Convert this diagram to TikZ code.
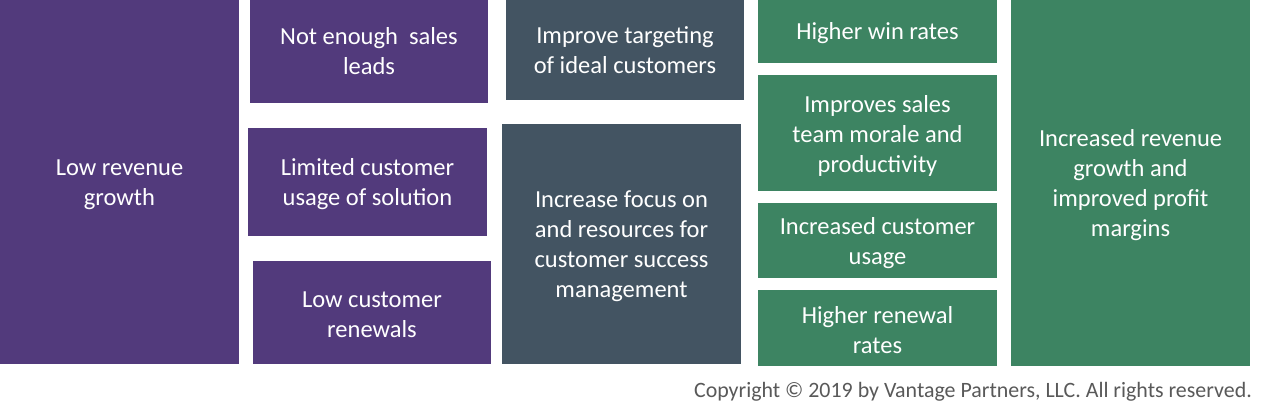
\documentclass[tikz,border=0pt]{standalone}
\usepackage{fontspec}
\setmainfont{Carlito}
\definecolor{vpurple}{HTML}{523A7C}
\definecolor{vslate}{HTML}{435462}
\definecolor{vgreen}{HTML}{3D8462}
\definecolor{vgray}{HTML}{595959}
\begin{document}
\begin{tikzpicture}[x=1pt,y=1pt,
  box/.style={anchor=north west, inner sep=0pt, outer sep=0pt},
  pbox/.style={box, fill=vpurple},
  sbox/.style={box, fill=vslate},
  gbox/.style={box, fill=vgreen},
  txt/.style={inner sep=0pt, text=white, align=center, yshift=-2.5pt,
    font=\fontsize{24.5}{30}\selectfont}]
\useasboundingbox[fill=white] (0,0) rectangle (1268,417);
% column 1
\node[pbox, minimum width=239pt, minimum height=364pt] (low) at (0,417) {};
% column 2
\node[pbox, minimum width=238pt, minimum height=103pt] (leads) at (250,417) {};
\node[pbox, minimum width=239pt, minimum height=108pt] (usage) at (248,289) {};
\node[pbox, minimum width=238pt, minimum height=103pt] (renew) at (253,156) {};
% column 3
\node[sbox, minimum width=238pt, minimum height=100pt] (target) at (506,417) {};
\node[sbox, minimum width=239pt, minimum height=240pt] (focus) at (502,293) {};
% column 4
\node[gbox, minimum width=239pt, minimum height=63pt] (win) at (758,417) {};
\node[gbox, minimum width=239pt, minimum height=116pt] (morale) at (758,342) {};
\node[gbox, minimum width=239pt, minimum height=75pt] (cusage) at (758,214) {};
\node[gbox, minimum width=239pt, minimum height=76pt] (rates) at (758,127) {};
% column 5
\node[gbox, minimum width=239pt, minimum height=366pt] (result) at (1011,417) {};
% texts
\node[txt] (lowT) at (low.center) {Low revenue\\growth};
\node[txt, yshift=3pt] (leadsT) at (leads.center) {Not enough\ \ sales\\leads};
\node[txt] (usageT) at (usage.center) {Limited customer\\usage of solution};
\node[txt] (renewT) at (renew.center) {Low customer\\renewals};
\node[txt, yshift=2pt] (targetT) at (target.center) {Improve targeting\\of ideal customers};
\node[txt] (focusT) at (focus.center) {Increase focus on\\and resources for\\customer success\\management};
\node[txt, yshift=1pt] (winT) at (win.center) {Higher win rates};
\node[txt] (moraleT) at (morale.center) {Improves sales\\team morale and\\productivity};
\node[txt] (cusageT) at (cusage.center) {Increased customer\\usage};
\node[txt] (ratesT) at (rates.center) {Higher renewal\\rates};
\node[txt] (resultT) at (result.center) {Increased revenue\\growth and\\improved profit\\margins};
% copyright
\node[anchor=base east, inner sep=0pt, text=vgray, font=\fontsize{21.9}{26}\selectfont] (copy) at (1252,19) {Copyright \textcopyright{} 2019 by Vantage Partners, LLC. All rights reserved.};
\end{tikzpicture}
\end{document}
